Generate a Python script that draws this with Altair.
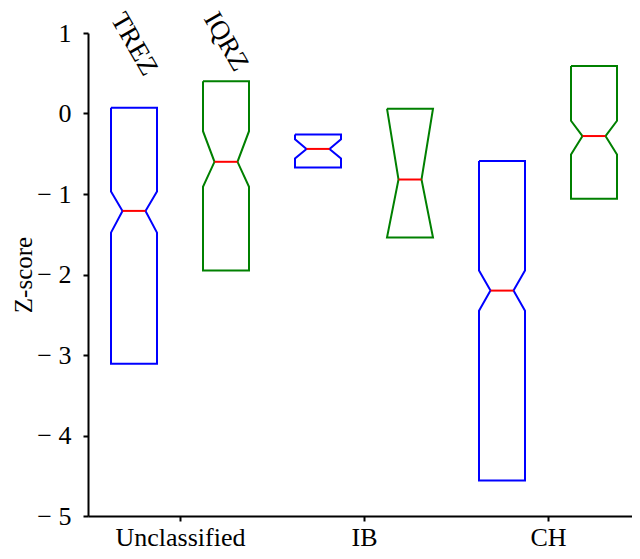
import altair as alt
import pandas as pd

groups = ["Unclassified", "IB", "CH"]
methods = ["TREZ", "IQRZ"]
colors = ["#0000ff", "#008000"]

# box statistics (per method, per group)
q3 = {"TREZ": [0.07, -0.26, -0.59], "IQRZ": [0.40, 0.06, 0.59]}
q1 = {"TREZ": [-3.11, -0.67, -4.56], "IQRZ": [-1.95, -1.54, -1.06]}
med = {"TREZ": [-1.21, -0.44, -2.20], "IQRZ": [-0.60, -0.82, -0.28]}
notch_hi = {"TREZ": [-0.97, -0.32, -1.95], "IQRZ": [-0.22, 0.06, -0.09]}
notch_lo = {"TREZ": [-1.48, -0.56, -2.45], "IQRZ": [-0.91, -1.54, -0.51]}

offsets = {"TREZ": -0.25, "IQRZ": 0.25}
label_y = {"TREZ": 0.86, "IQRZ": 0.89}
HALF = 0.125
NOTCH = 0.0625

rows = []
med_rows = []
for m in methods:
    for gi, g in enumerate(groups):
        c = gi + 1 + offsets[m]
        pts = [
            (c - HALF, q3[m][gi]), (c + HALF, q3[m][gi]), (c + HALF, notch_hi[m][gi]),
            (c + NOTCH, med[m][gi]), (c + HALF, notch_lo[m][gi]), (c + HALF, q1[m][gi]),
            (c - HALF, q1[m][gi]), (c - HALF, notch_lo[m][gi]), (c - NOTCH, med[m][gi]),
            (c - HALF, notch_hi[m][gi]), (c - HALF, q3[m][gi]),
        ]
        for i, (x, y) in enumerate(pts):
            rows.append({"box": f"{m}-{g}", "method": m, "i": i, "x": x, "y": y})
        med_rows.append({"method": m, "x": c - NOTCH, "x2": c + NOTCH, "y": med[m][gi]})

poly = pd.DataFrame(rows)
meds = pd.DataFrame(med_rows)
labels = pd.DataFrame({"method": methods,
                       "x": [1 + offsets[m] for m in methods],
                       "y": [label_y[m] for m in methods]})

FONT = "Liberation Serif"
FS = 27
label_expr = " : ".join(f"datum.value == {i+1} ? '{g}'" for i, g in enumerate(groups[:-1])) + f" : '{groups[-1]}'"

W, H = 544, 483
xscale = alt.Scale(domain=[0.5, 0.5 + W / 184.0], nice=False, zero=False)
yscale = alt.Scale(domain=[-5, 1], nice=False, zero=False)

xaxis = alt.Axis(values=[1, 2, 3], labelExpr=label_expr, title=None, grid=False,
                 tickSize=5, tickWidth=2, labelPadding=3, domainWidth=2,
                 labelFont=FONT, labelFontSize=26, labelColor="black",
                 domainColor="black", tickColor="black")
yaxis = alt.Axis(values=[-5, -4, -3, -2, -1, 0, 1], format="d", title="Z-score", grid=False,
                 labelExpr="datum.value < 0 ? '\u2212 ' + abs(datum.value) : datum.label",
                 tickSize=5, tickWidth=2, labelPadding=12, domainWidth=2,
                 labelFont=FONT, labelFontSize=26, labelColor="black",
                 titleFont=FONT, titleFontSize=25, titleFontWeight="normal",
                 titleColor="black", titleX=-57, titleBaseline="alphabetic",
                 domainColor="black", tickColor="black")

boxes = alt.Chart(poly).mark_line(strokeWidth=2, strokeJoin="miter").encode(
    x=alt.X("x:Q", scale=xscale, axis=xaxis),
    y=alt.Y("y:Q", scale=yscale, axis=yaxis),
    color=alt.Color("method:N", scale=alt.Scale(domain=methods, range=colors), legend=None),
    detail="box:N",
    order="i:Q",
)

median_rules = alt.Chart(meds).mark_rule(color="#ff0000", strokeWidth=2).encode(
    x="x:Q", x2="x2:Q", y="y:Q"
)

text = alt.Chart(labels).mark_text(angle=60, align="center", baseline="middle",
                                   font=FONT, fontSize=FS, color="black").encode(
    x="x:Q", y="y:Q", text="method:N"
)

chart = alt.layer(boxes, median_rules, text).properties(
    width=W, height=H,
    autosize=alt.AutoSizeParams(type="none"),
    padding={"left": 80, "top": 25, "right": 0, "bottom": 35},
).configure_view(stroke=None)

chart.save("out.html", embed_options={"renderer": "svg", "actions": False})
